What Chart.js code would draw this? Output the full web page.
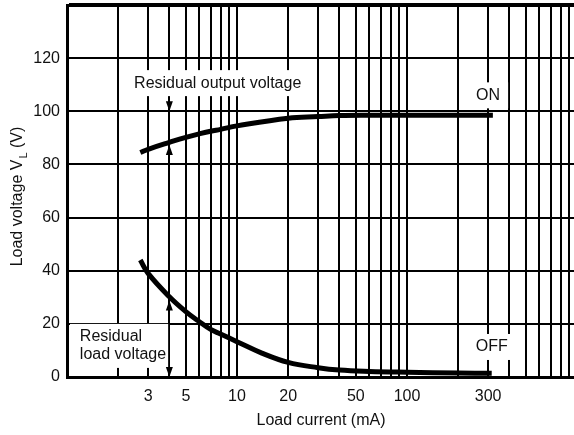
<!DOCTYPE html>
<html>
<head>
<meta charset="utf-8">
<script src="https://cdn.jsdelivr.net/npm/chart.js@4.4.1/dist/chart.umd.min.js"></script>
<style>
  html, body { margin: 0; padding: 0; background: #fff; overflow: hidden; }
  #wrap { width: 577px; height: 435px; }
</style>
</head>
<body>
<div id="wrap"><canvas id="chart" width="577" height="435"></canvas></div>
<script>
// Eixo X: corrente de carga (mA), escala log com linhas em 1..9 de cada década
const gridCurrents = [1, 2, 3, 4, 5, 6, 7, 8, 9, 10, 20, 30, 40, 50, 60, 70, 80, 90,
                      100, 200, 300, 400, 500, 600, 700, 800, 900, 1000];
const currentLabels = [3, 5, 10, 20, 50, 100, 300];
// Eixo Y: tensão de carga (V)
const voltageTicks = [0, 20, 40, 60, 80, 100, 120, 140];

// Curva ON
const onCurrent = [2.7, 3, 4, 5, 6, 7, 8, 10, 20, 30, 40, 60, 100, 200, 320];
const onVoltage = [84.5, 85.7, 88.3, 90.2, 91.5, 92.5, 93.2, 94.5, 97.4, 98, 98.4, 98.5, 98.5, 98.5, 98.5];

// Curva OFF
const offCurrent = [2.7, 3, 4, 5, 6, 7, 8, 10, 14, 20, 30, 40, 60, 100, 200, 315];
const offVoltage = [44, 39, 30.2, 24.6, 20.8, 17.9, 16.2, 13.3, 9, 5.5, 3.5, 2.6, 2.1, 1.8, 1.5, 1.4];

const FONT = "'Liberation Sans', Arial, sans-serif";
const INK = '#111';
const SIZE = 16;

// Textos e setas sobre o gráfico (posições em valores dos eixos)
const notes = [
    { lines: ['Residual output voltage'], x: 7.7, y: 110.6, align: 'center' },
    { lines: ['ON'], x: 300, y: 106, align: 'center' },
    { lines: ['OFF'], x: 315, y: 11.3, align: 'center' },
    { lines: ['Residual', 'load voltage'], x: 1.19, y: 11.7, align: 'left' }
];
const arrows = [
    { x: 4, y: 100, dir: 'down' },
    { x: 4, y: 87.3, dir: 'up' },
    { x: 4, y: 28.8, dir: 'up' },
    { x: 4, y: 0, dir: 'down' }
];

function toPoints(xs, ys) {
    return xs.map((x, i) => ({ x: x, y: ys[i] }));
}

// Plugin: caixas brancas, textos, setas e títulos dos eixos
const annotations = {
    id: 'annotations',
    beforeDatasetsDraw(chart) {
        const { ctx, scales: { x, y }, chartArea } = chart;
        ctx.save();
        ctx.font = SIZE + 'px ' + FONT;
        ctx.fillStyle = '#fff';
        notes.forEach(n => {
            const px = x.getPixelForValue(n.x);
            const py = y.getPixelForValue(n.y);
            const w = Math.max(...n.lines.map(l => ctx.measureText(l).width));
            const h = n.lines.length * 18;
            const left = n.align === 'center' ? px - w / 2 - 8 : chartArea.left + 3;
            const right = n.align === 'center' ? px + w / 2 + 8 : px + w + 2;
            ctx.fillRect(left, py - h / 2 - 4, right - left, h + 8);
        });
        ctx.restore();
    },
    afterDatasetsDraw(chart) {
        const { ctx, scales: { x, y } } = chart;
        ctx.save();
        ctx.fillStyle = INK;
        ctx.font = SIZE + 'px ' + FONT;
        ctx.textBaseline = 'middle';
        notes.forEach(n => {
            const px = x.getPixelForValue(n.x);
            const py = y.getPixelForValue(n.y);
            ctx.textAlign = n.align;
            n.lines.forEach((l, i) => {
                ctx.fillText(l, px, py + (i - (n.lines.length - 1) / 2) * 18);
            });
        });

        // setas
        ctx.fillStyle = '#000';
        arrows.forEach(a => {
            const px = x.getPixelForValue(a.x);
            const py = y.getPixelForValue(a.y);
            const s = a.dir === 'down' ? -1 : 1;
            ctx.beginPath();
            ctx.moveTo(px, py);
            ctx.lineTo(px - 3.5, py + s * 10);
            ctx.lineTo(px + 3.5, py + s * 10);
            ctx.closePath();
            ctx.fill();
        });

        // título do eixo X
        ctx.fillStyle = INK;
        ctx.textAlign = 'center';
        ctx.fillText('Load current (mA)', 321, 421);

        // título do eixo Y com subscrito
        ctx.translate(18, 197);
        ctx.rotate(-Math.PI / 2);
        const a = 'Load voltage V', b = ' (V)';
        ctx.font = SIZE + 'px ' + FONT;
        const wa = ctx.measureText(a).width, wb = ctx.measureText(b).width;
        ctx.font = '11px ' + FONT;
        const ws = ctx.measureText('L').width;
        const start = -(wa + ws + wb) / 2;
        ctx.textAlign = 'left';
        ctx.font = SIZE + 'px ' + FONT;
        ctx.fillText(a, start, 0);
        ctx.font = '11px ' + FONT;
        ctx.fillText('L', start + wa + 1, 6);
        ctx.font = SIZE + 'px ' + FONT;
        ctx.fillText(b, start + wa + ws + 1, 0);
        ctx.restore();
    }
};

const lineStyle = {
    showLine: true,
    borderColor: '#000',
    borderWidth: 5,
    pointRadius: 0,
    tension: 0.4
};

new Chart(document.getElementById('chart'), {
    type: 'scatter',
    data: {
        datasets: [
            Object.assign({ label: 'ON', data: toPoints(onCurrent, onVoltage) }, lineStyle),
            Object.assign({ label: 'OFF', data: toPoints(offCurrent, offVoltage) }, lineStyle)
        ]
    },
    options: {
        responsive: false,
        animation: false,
        layout: { padding: { top: 5, right: 0, bottom: 0, left: 0 } },
        plugins: {
            legend: { display: false },
            tooltip: { enabled: false }
        },
        scales: {
            x: {
                type: 'logarithmic',
                min: 1,
                max: 1000,
                afterBuildTicks: s => { s.ticks = gridCurrents.map(v => ({ value: v })); },
                afterFit: s => { s.height = 58; s.paddingLeft = 0; s.paddingRight = 0; },
                grid: { color: '#000', lineWidth: 2, drawTicks: false },
                border: { color: '#000', width: 3 },
                ticks: {
                    autoSkip: false,
                    maxRotation: 0,
                    padding: 10,
                    color: INK,
                    font: { family: FONT, size: SIZE },
                    callback: v => currentLabels.includes(v) ? String(v) : ''
                }
            },
            y: {
                min: 0,
                max: 140,
                afterBuildTicks: s => { s.ticks = voltageTicks.map(v => ({ value: v })); },
                afterFit: s => { s.width = 67; s.paddingTop = 0; s.paddingBottom = 0; },
                grid: {
                    color: '#000',
                    lineWidth: c => (c.tick && c.tick.value === 140) ? 4 : 2,
                    drawTicks: false
                },
                border: { color: '#000', width: 3 },
                ticks: {
                    padding: 7,
                    color: INK,
                    font: { family: FONT, size: SIZE },
                    callback: v => v === 140 ? '' : String(v)
                }
            }
        }
    },
    plugins: [annotations]
});
</script>
</body>
</html>
